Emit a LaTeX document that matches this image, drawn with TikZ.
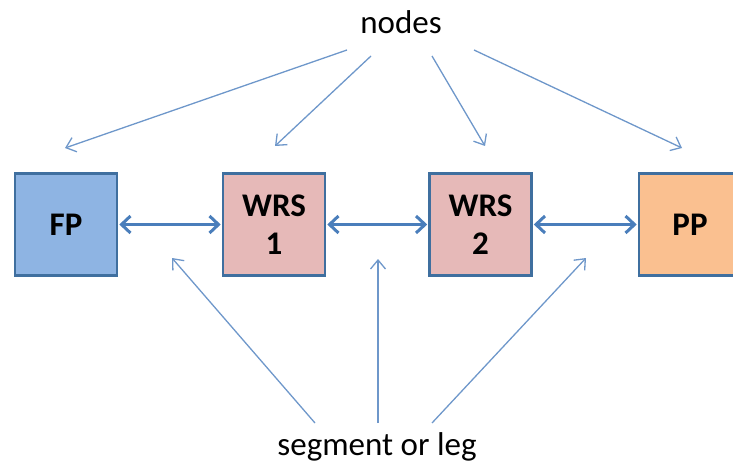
\documentclass[tikz,border=0pt]{standalone}
\usepackage{fontspec}
\setmainfont{Carlito}
\usetikzlibrary{arrows.meta}
\definecolor{boxline}{HTML}{3F6F9F}
\definecolor{fpfill}{HTML}{8EB4E3}
\definecolor{wrsfill}{HTML}{E6B9B8}
\definecolor{ppfill}{HTML}{FAC090}
\definecolor{thinline}{HTML}{6E97CA}
\definecolor{thickline}{HTML}{4A7EBB}
\tikzset{
  box/.style={draw=boxline, line width=2.6pt, minimum width=102pt, minimum height=102pt, inner sep=0pt, align=center, font=\fontsize{33}{38}\selectfont\bfseries},
  link/.style={draw=thickline, line width=3.2pt, {Straight Barb[length=9pt,width=17pt,line width=3pt]}-{Straight Barb[length=9pt,width=17pt,line width=3pt]}, shorten <=1pt, shorten >=1pt},
  pointer/.style={draw=thinline, line width=1.3pt, -{Straight Barb[length=9pt,width=15pt,line width=1.3pt]}},
  label/.style={font=\fontsize{33}{38}\selectfont, inner sep=0pt}
}
\begin{document}
\begin{tikzpicture}[x=1pt,y=-1pt]
\useasboundingbox (0,0) rectangle (733,465);
\node[box, fill=fpfill] (fp) at (66,224.5) {FP};
\node[box, fill=wrsfill] (w1) at (274,224.5) {WRS\\1};
\node[box, fill=wrsfill] (w2) at (480.5,224.5) {WRS\\2};
\node[box, fill=ppfill] (pp) at (690,224.5) {PP};
\node[label] (nodes) at (401,22) {nodes};
\node[label] (seg) at (377,447) {segment or leg};
\draw[link] (fp) -- (w1);
\draw[link] (w1) -- (w2);
\draw[link] (w2) -- (pp);
\coordinate (n1) at (347,50);
\coordinate (n2) at (371,56);
\coordinate (n3) at (432,56);
\coordinate (n4) at (474,50);
\coordinate (t1) at (65,148);
\coordinate (t2) at (275,146);
\coordinate (t3) at (485,146);
\coordinate (t4) at (682,148);
\draw[pointer] (n1) -- (t1);
\draw[pointer] (n2) -- (t2);
\draw[pointer] (n3) -- (t3);
\draw[pointer] (n4) -- (t4);
\coordinate (s1) at (315,423);
\coordinate (s2) at (378,423);
\coordinate (s3) at (432,423);
\coordinate (b1) at (172,258);
\coordinate (b2) at (378,259);
\coordinate (b3) at (586,258);
\draw[pointer] (s1) -- (b1);
\draw[pointer] (s2) -- (b2);
\draw[pointer] (s3) -- (b3);
\end{tikzpicture}
\end{document}
